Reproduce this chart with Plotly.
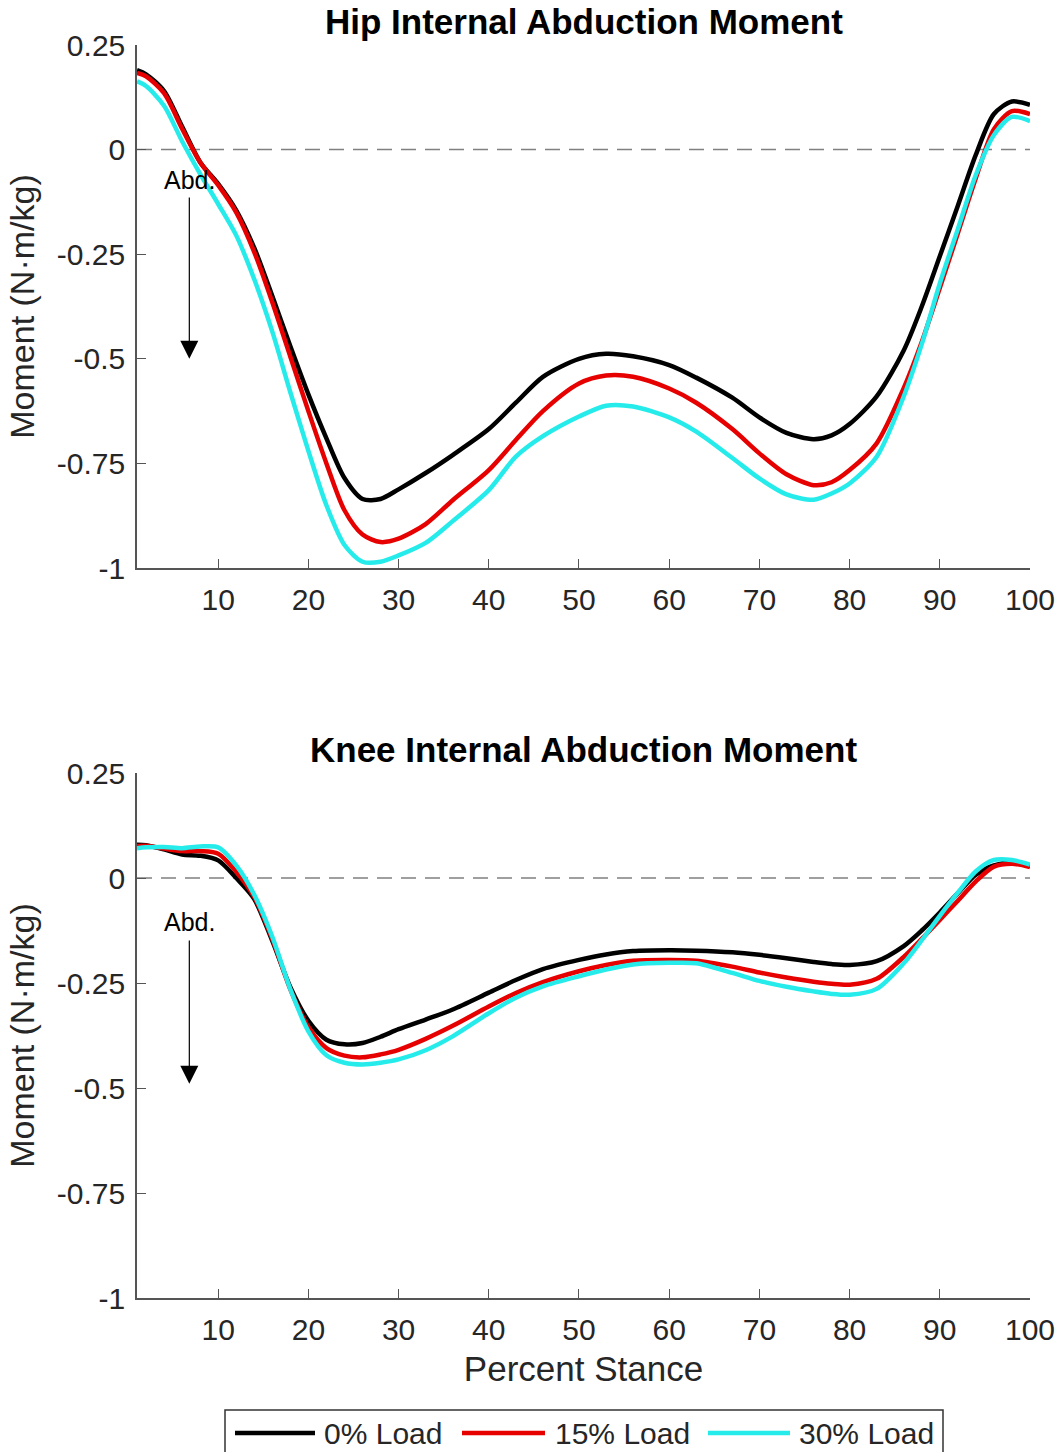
import plotly.graph_objects as go

# Percent of stance phase at which each curve is sampled
stance = [1, 2, 4, 6, 8, 10, 12, 14, 16, 18, 20, 22, 24, 26, 28, 30, 33, 36, 40, 43,
          46, 50, 53, 56, 60, 63, 67, 70, 73, 76, 78, 80, 83, 86, 88, 90, 92, 94, 96, 98, 100]

# Hip internal abduction moment (N·m/kg)
hip_0 = [0.190, 0.180, 0.140, 0.055, -0.030, -0.082, -0.145, -0.235, -0.350, -0.470,
         -0.585, -0.690, -0.785, -0.835, -0.835, -0.812, -0.773, -0.730, -0.668, -0.605,
         -0.543, -0.500, -0.488, -0.494, -0.515, -0.545, -0.593, -0.640, -0.677, -0.692,
         -0.683, -0.656, -0.590, -0.480, -0.375, -0.255, -0.134, -0.012, 0.085, 0.115, 0.107]
hip_15 = [0.183, 0.175, 0.135, 0.050, -0.030, -0.085, -0.150, -0.245, -0.365, -0.495,
          -0.625, -0.750, -0.862, -0.920, -0.938, -0.930, -0.895, -0.838, -0.766, -0.694,
          -0.625, -0.559, -0.540, -0.543, -0.571, -0.605, -0.668, -0.726, -0.776, -0.802,
          -0.795, -0.766, -0.702, -0.570, -0.460, -0.331, -0.200, -0.068, 0.049, 0.092, 0.085]
hip_30 = [0.163, 0.152, 0.105, 0.020, -0.058, -0.130, -0.205, -0.310, -0.435, -0.580,
          -0.720, -0.850, -0.945, -0.985, -0.985, -0.970, -0.940, -0.888, -0.814, -0.734,
          -0.685, -0.638, -0.612, -0.614, -0.640, -0.674, -0.737, -0.786, -0.824, -0.837,
          -0.822, -0.798, -0.734, -0.590, -0.465, -0.320, -0.190, -0.060, 0.035, 0.078, 0.068]

# Knee internal abduction moment (N·m/kg)
knee_0 = [0.079, 0.078, 0.068, 0.056, 0.053, 0.042, 0.000, -0.050, -0.150, -0.260,
          -0.340, -0.385, -0.396, -0.393, -0.378, -0.360, -0.337, -0.313, -0.273, -0.243,
          -0.217, -0.195, -0.182, -0.174, -0.172, -0.173, -0.177, -0.183, -0.191, -0.200,
          -0.205, -0.207, -0.198, -0.162, -0.125, -0.082, -0.036, 0.008, 0.030, 0.037, 0.029]
knee_15 = [0.076, 0.077, 0.070, 0.064, 0.064, 0.058, 0.015, -0.045, -0.145, -0.265,
           -0.355, -0.405, -0.423, -0.427, -0.420, -0.409, -0.383, -0.352, -0.306, -0.274,
           -0.248, -0.222, -0.207, -0.197, -0.195, -0.197, -0.211, -0.225, -0.237, -0.247,
           -0.252, -0.254, -0.240, -0.188, -0.145, -0.100, -0.054, -0.008, 0.027, 0.034, 0.026]
knee_30 = [0.071, 0.073, 0.074, 0.071, 0.075, 0.073, 0.030, -0.040, -0.140, -0.265,
           -0.365, -0.422, -0.440, -0.444, -0.440, -0.432, -0.410, -0.377, -0.322, -0.285,
           -0.258, -0.234, -0.218, -0.206, -0.202, -0.203, -0.226, -0.245, -0.259, -0.270,
           -0.276, -0.278, -0.264, -0.203, -0.148, -0.090, -0.035, 0.016, 0.043, 0.043, 0.032]

series_names = ["0% Load", "15% Load", "30% Load"]
series_colors = ["#000000", "#e60000", "#26ebeb"]

x_ticks = [10, 20, 30, 40, 50, 60, 70, 80, 90, 100]
y_ticks = [-1, -0.75, -0.5, -0.25, 0, 0.25]
y_tick_text = ["-1", "-0.75", "-0.5", "-0.25", "0", "0.25"]

panel_titles = ["Hip Internal Abduction Moment", "Knee Internal Abduction Moment"]

W, H = 1061, 1452
FONT = "Liberation Sans, Arial, Helvetica, sans-serif"
TXT = "#262626"
AX = "#555555"


def px_x(p):
    return p / W


def px_y(p):
    return 1 - p / H


fig = go.Figure()

panels = [(hip_0, hip_15, hip_30), (knee_0, knee_15, knee_30)]
for i, data in enumerate(panels):
    xa = "x" if i == 0 else "x2"
    ya = "y" if i == 0 else "y2"
    # zero reference line
    fig.add_trace(go.Scatter(x=[1, 100], y=[0, 0], mode="lines",
                             line=dict(color="#808080", width=1.5, dash="15px,9px"),
                             xaxis=xa, yaxis=ya, showlegend=False, hoverinfo="skip"))
    for vals, name, col in zip(data, series_names, series_colors):
        fig.add_trace(go.Scatter(x=stance, y=vals, mode="lines", name=name,
                                 line=dict(color=col, width=4.5, shape="spline", smoothing=0.8),
                                 xaxis=xa, yaxis=ya, showlegend=False))

x_dom = [px_x(137), px_x(1030)]
doms = [[px_y(568), px_y(45)], [px_y(1298), px_y(773)]]

axis_common = dict(showline=True, linecolor=AX, linewidth=1.5, ticks="inside", ticklen=9,
                   tickwidth=1.2, tickcolor=AX, showgrid=False, zeroline=False,
                   automargin=False, ticklabelstandoff=4,
                   tickfont=dict(family=FONT, size=30, color=TXT))

layout_axes = {}
for i in range(2):
    sx = "" if i == 0 else "2"
    layout_axes["xaxis" + sx] = dict(domain=x_dom, range=[1, 100], tickvals=x_ticks,
                                     anchor="y" + sx, **axis_common)
    layout_axes["yaxis" + sx] = dict(domain=doms[i], range=[-1, 0.25], tickvals=y_ticks,
                                     ticktext=y_tick_text, anchor="x" + sx,
                                     title=dict(text="Moment (N·m/kg)", standoff=12,
                                                font=dict(family=FONT, size=34, color=TXT)),
                                     **axis_common)
layout_axes["xaxis2"]["title"] = dict(text="Percent Stance", standoff=12,
                                      font=dict(family=FONT, size=35, color=TXT))

fig.update_layout(width=W, height=H, margin=dict(l=0, r=0, t=0, b=0, autoexpand=False),
                  paper_bgcolor="white", plot_bgcolor="white", showlegend=False,
                  **layout_axes)

annotations = []
# panel titles
for i, t in enumerate(panel_titles):
    annotations.append(dict(text="<b>" + t + "</b>", x=(x_dom[0] + x_dom[1]) / 2,
                            y=px_y(22 if i == 0 else 750), xref="paper", yref="paper",
                            showarrow=False, xanchor="center", yanchor="middle",
                            font=dict(family=FONT, size=35, color="#000000")))

# "Abd." direction arrows
arrows = [("x", "y", -0.073, -0.111, -0.5), ("x2", "y2", -0.105, -0.145, -0.49)]
for xa, ya, ty, tail, tip in arrows:
    annotations.append(dict(text="Abd.", x=6.8, y=ty, xref=xa, yref=ya, showarrow=False,
                            xanchor="center", yanchor="middle",
                            font=dict(family=FONT, size=25, color="#000000")))
    annotations.append(dict(text="", x=6.8, y=tip, ax=6.8, ay=tail, xref=xa, yref=ya,
                            axref=xa, ayref=ya, showarrow=True, arrowhead=2, arrowsize=3,
                            arrowwidth=1.2, arrowcolor="#000000"))

# legend box
shapes = [dict(type="rect", xref="paper", yref="paper", x0=px_x(225), x1=px_x(943),
               y0=px_y(1470), y1=px_y(1410), line=dict(color="#333333", width=1.5),
               fillcolor="white")]
leg_items = [(235, 315, 322), (462, 545, 553), (708, 790, 797)]
for (l0, l1, tx), name, col in zip(leg_items, series_names, series_colors):
    shapes.append(dict(type="line", xref="paper", yref="paper", x0=px_x(l0), x1=px_x(l1),
                       y0=px_y(1433), y1=px_y(1433), line=dict(color=col, width=4.5)))
    annotations.append(dict(text=name, x=px_x(tx), y=px_y(1433), xref="paper", yref="paper",
                            showarrow=False, xanchor="left", yanchor="middle",
                            font=dict(family=FONT, size=30, color=TXT)))

fig.update_layout(annotations=annotations, shapes=shapes)

fig.write_html("out.html")
